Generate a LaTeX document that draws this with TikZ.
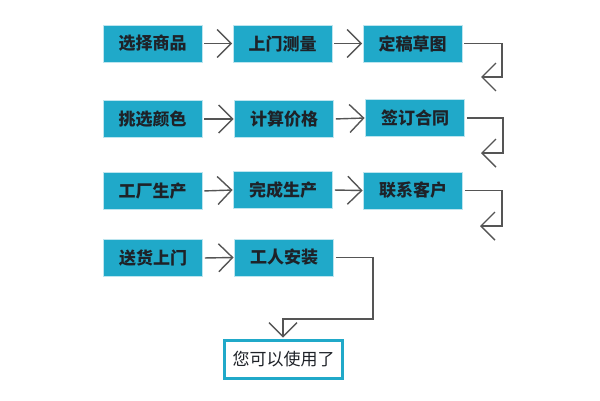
\documentclass[tikz,border=0pt]{standalone}
\usepackage{fontspec}
\newfontfamily\cjk{Noto Sans CJK SC}
\usetikzlibrary{arrows.meta}
\definecolor{teal1}{RGB}{32,169,201}
\definecolor{txt}{RGB}{30,34,40}
\definecolor{arr}{RGB}{85,85,85}
\begin{document}
\begin{tikzpicture}[x=1pt,y=-1pt,
  box/.style={draw=white!70!teal1,line width=0.8pt,fill=teal1,minimum width=99pt,minimum height=37pt,inner sep=0pt,font=\cjk\bfseries\fontsize{17}{19}\selectfont,text=txt},
  endbox/.style={draw=teal1,line width=3pt,fill=white,minimum width=118pt,minimum height=38pt,inner sep=0pt,font=\cjk\fontsize{17}{19}\selectfont,text=txt},
  conn/.style={draw=arr,line width=1.4pt,-{Straight Barb[length=14pt,width=28pt,line width=1.4pt]}}]
\useasboundingbox (0,0) rectangle (600,400);
\fill[white] (0,0) rectangle (600,400);
% row 1
\node[box] (a1) at (152.5,43.5) {选择商品};
\node[box] (a2) at (282.5,43.5) {上门测量};
\node[box] (a3) at (412.5,43.5) {定稿草图};
% row 2
\node[box] (b1) at (152.5,119) {挑选颜色};
\node[box] (b2) at (284,119) {计算价格};
\node[box] (b3) at (415,118) {签订合同};
% row 3
\node[box] (c1) at (152.5,191) {工厂生产};
\node[box] (c2) at (283,190) {完成生产};
\node[box] (c3) at (413,190.5) {联系客户};
% row 4
\node[box] (d1) at (153,258) {送货上门};
\node[box] (d2) at (284,257.5) {工人安装};
% end
\node[endbox] (e) at (283.5,359.5) {您可以使用了};
% horizontal connectors
\foreach \p/\q in {a1/a2,a2/a3,b1/b2,b2/b3,c1/c2,c2/c3,d1/d2}
  \draw[conn,shorten <=2pt,shorten >=0.5pt] (\p.east) -- (\q.west);
% return connectors
\coordinate (ra1) at (502,43.5); \coordinate (ra2) at (502,77); \coordinate (ra3) at (481,77);
\coordinate (rb1) at (503,118); \coordinate (rb2) at (503,153); \coordinate (rb3) at (481,153);
\coordinate (rc1) at (502,190.5); \coordinate (rc2) at (502,226); \coordinate (rc3) at (480,226);
\draw[conn,shorten <=2pt] (a3.east) -- (ra1) -- (ra2) -- (ra3);
\draw[conn,shorten <=2pt] (b3.east) -- (rb1) -- (rb2) -- (rb3);
\draw[conn,shorten <=2pt] (c3.east) -- (rc1) -- (rc2) -- (rc3);
\coordinate (rd1) at (373,257.5); \coordinate (rd2) at (373,319); \coordinate (rd3) at (283,319);
\draw[conn,shorten <=2pt,shorten >=1.5pt] (d2.east) -- (rd1) -- (rd2) -- (rd3) -- (e.north -| rd3);
\end{tikzpicture}
\end{document}
